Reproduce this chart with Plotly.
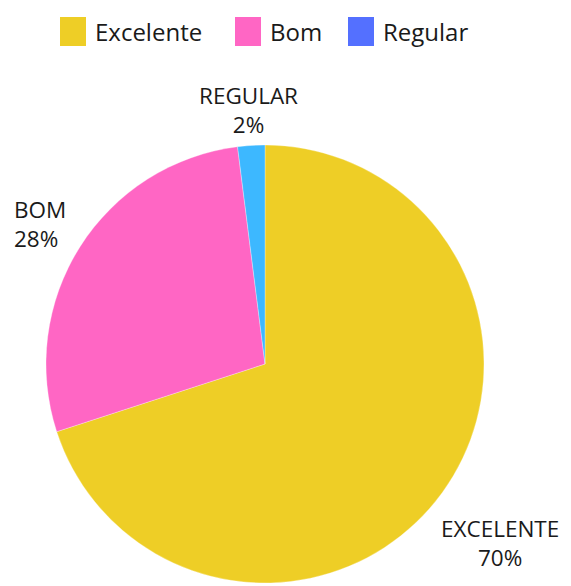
import math
import plotly.graph_objects as go

categories = ["Excelente", "Bom", "Regular"]
label_text = ["EXCELENTE", "BOM", "REGULAR"]
values = [70, 28, 2]
slice_colors = ["#EECE26", "#FF66C4", "#3DB8FF"]
legend_colors = ["#EECE26", "#FF66C4", "#5470FF"]

# label placement style (distance of label centre from pie centre, px), nudges and alignment
label_dist = [299, 267, 258]
label_dx = [-7, 0, 0]
label_align = ["center", "left", "center"]

# page has an 8px body margin; size the figure so it fits the 571x586 window
OFF = 8
W, H = 571 - OFF, 586 - OFF
CX, CY = 265 - OFF, 367 - OFF  # label reference centre in figure pixels

fig = go.Figure()
fig.add_trace(go.Pie(
    labels=categories,
    values=values,
    textposition="none",
    textinfo="none",
    marker=dict(colors=slice_colors, line=dict(color="rgba(255,255,255,0.6)", width=0.5)),
    sort=False,
    direction="clockwise",
    rotation=0,
    showlegend=False,
    automargin=False,
    hoverinfo="label+percent",
    domain=dict(x=[0, 514 / W], y=[3 / H, (H - 137) / H]),
))

annotations = []
shapes = []

# slice labels, placed along each slice's mid-angle
total = sum(values)
cum = 0.0
for lab, v, d, dx, al in zip(label_text, values, label_dist, label_dx, label_align):
    mid = (cum + v / 2) / total * 2 * math.pi
    cum += v
    px = CX + d * math.sin(mid) + dx
    py = CY - d * math.cos(mid)
    pct = round(v / total * 100)
    annotations.append(dict(xref="paper", yref="paper", x=px / W, y=1 - py / H,
                            text=f"{lab}<br>{pct}%", showarrow=False, align=al,
                            xanchor="center", yanchor="middle",
                            font=dict(family="Open Sans", size=22.5, color="#1a1a1a")))

# custom legend (page pixel positions minus offset)
legend_x = [60, 235, 348]
for name, col, lx in zip(categories, legend_colors, legend_x):
    x0 = lx - OFF
    shapes.append(dict(type="rect", xref="paper", yref="paper",
                       x0=x0 / W, x1=(x0 + 26) / W,
                       y0=1 - (46 - OFF) / H, y1=1 - (17 - OFF) / H,
                       fillcolor=col, line=dict(width=0)))
    annotations.append(dict(xref="paper", yref="paper", x=(x0 + 33) / W, y=1 - (31.5 - OFF) / H,
                            text=name, showarrow=False, xanchor="left", yanchor="middle",
                            font=dict(family="Open Sans", size=24, color="#1a1a1a")))

fig.update_layout(
    width=W, height=H,
    margin=dict(l=0, r=0, t=0, b=0, autoexpand=False),
    paper_bgcolor="white",
    plot_bgcolor="white",
    shapes=shapes,
    annotations=annotations,
    font=dict(family="Open Sans"),
)

fig.write_html("out.html")
